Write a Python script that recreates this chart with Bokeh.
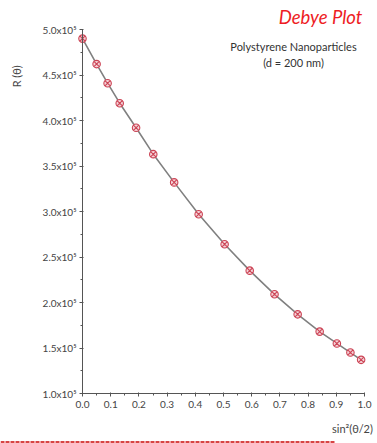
from bokeh.plotting import figure
from bokeh.models import (Label, CustomJSTickFormatter, NumeralTickFormatter,
                          SingleIntervalTicker, Range1d)
from bokeh.embed import file_html
from bokeh.resources import INLINE

# Debye plot data: scattering vs sin^2(theta/2)
sin2_half_theta = [0.0, 0.050, 0.089, 0.132, 0.190, 0.251, 0.325, 0.412,
                   0.504, 0.593, 0.681, 0.763, 0.841, 0.902, 0.950, 0.988]
r_theta = [4.90e5, 4.62e5, 4.41e5, 4.19e5, 3.92e5, 3.63e5, 3.32e5, 2.97e5,
           2.64e5, 2.35e5, 2.09e5, 1.87e5, 1.68e5, 1.55e5, 1.45e5, 1.37e5]

x_limits = [0.0, 1.0]
y_limits = [1.0e5, 5.0e5]

title_text = "Debye Plot"
sample_lines = ["Polystyrene Nanoparticles", "(d = 200 nm)"]
x_label = "sin\u00b2(\u03b8/2)"
y_label = "R (\u03b8)"

W, H = 377, 443
# pixel box of the axes inside the canvas
AX_LEFT, AX_RIGHT, AX_TOP, AX_BOTTOM = 82, 364, 29, 393

FONT = "Lato"
AXIS_COLOR = "#555555"
TEXT_COLOR = "#444444"


def px_to_x(px):
    return x_limits[0] + (px - AX_LEFT) / (AX_RIGHT - AX_LEFT) * (x_limits[1] - x_limits[0])


def py_to_y(py):
    return y_limits[1] - (py - AX_TOP) / (AX_BOTTOM - AX_TOP) * (y_limits[1] - y_limits[0])


# the frame covers the whole canvas; axes sit at fixed data positions
p = figure(width=W, height=H, output_backend="svg", toolbar_location=None,
           x_range=Range1d(px_to_x(0), px_to_x(W)),
           y_range=Range1d(py_to_y(H), py_to_y(0)),
           min_border=0)
p.title.visible = False
p.outline_line_color = None
p.xgrid.visible = False
p.ygrid.visible = False
p.background_fill_color = "white"
p.border_fill_color = "white"

p.xaxis.fixed_location = y_limits[0]
p.yaxis.fixed_location = x_limits[0]
p.xaxis.bounds = tuple(x_limits)
p.yaxis.bounds = tuple(y_limits)

p.xaxis.ticker = SingleIntervalTicker(interval=0.1, num_minor_ticks=2)
p.yaxis.ticker = SingleIntervalTicker(interval=0.5e5, num_minor_ticks=2)
p.xaxis.formatter = NumeralTickFormatter(format="0.0")
p.yaxis.formatter = CustomJSTickFormatter(
    code="return (tick / 1e5).toFixed(1) + 'x10\u2075';")
for ax in (p.xaxis, p.yaxis):
    ax.axis_line_color = AXIS_COLOR
    ax.major_tick_line_color = AXIS_COLOR
    ax.minor_tick_line_color = AXIS_COLOR
    ax.major_tick_in = 1
    ax.major_tick_out = 3
    ax.minor_tick_in = 0
    ax.minor_tick_out = 2
    ax.major_label_text_font = FONT
    ax.major_label_text_font_size = "10px"
    ax.major_label_text_color = TEXT_COLOR
p.xaxis.major_label_standoff = 4
p.yaxis.major_label_standoff = 3

# fitted curve and measured points
p.line(sin2_half_theta, r_theta, line_color="#808080", line_width=1.6)
p.scatter(sin2_half_theta, r_theta, marker="circle_x", size=7.5,
          line_color="#cc4455", fill_color="#f4d3d8", line_width=1.1)


def add_text(text, px, py, size, color, style="normal", angle=0.0):
    p.add_layout(Label(x=px, y=H - py, x_units="screen", y_units="screen",
                       text=text, text_font=FONT, text_font_style=style,
                       text_font_size=size, text_color=color,
                       text_align="center", text_baseline="middle",
                       angle=angle))


add_text(title_text, 320, 16, "18.5px", "#ee1c24", style="italic")
add_text(sample_lines[0], 293, 46, "11px", "#333333")
add_text(sample_lines[1], 293, 62, "11px", "#333333")
add_text(x_label, 352, 428, "11px", TEXT_COLOR)
add_text(y_label, 16, 76, "11px", TEXT_COLOR, angle=1.5708)

# red rule along the bottom edge
p.segment(x0=[px_to_x(0)], y0=[py_to_y(441.5)], x1=[px_to_x(335)],
          y1=[py_to_y(441.5)], line_color="#d84444", line_width=2.2,
          line_dash="4 1")

open("out.html", "w").write(file_html(p, INLINE))
